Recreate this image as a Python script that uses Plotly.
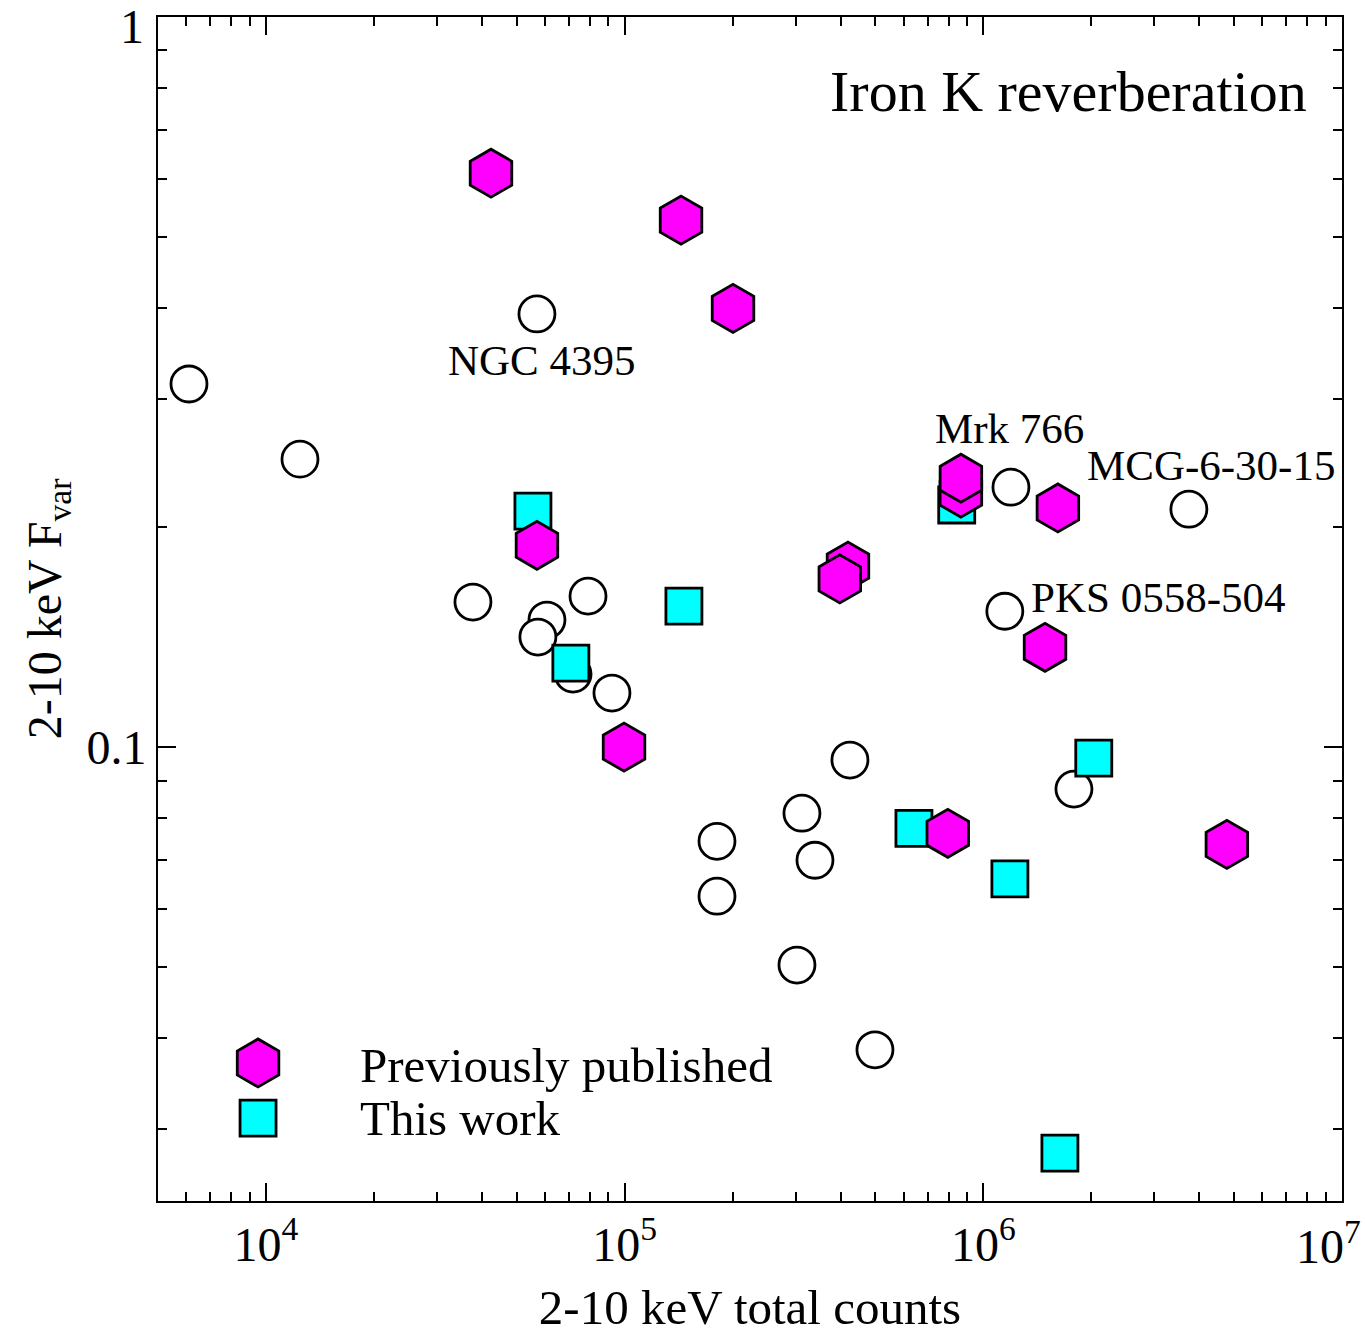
import numpy as np
import plotly.graph_objects as go

# ---- data ----
prev_counts = [42400, 143600, 200500, 56950, 419400, 398000, 866000, 866000,
               1614000, 1486000, 99600, 796000, 4775000]
prev_fvar = [0.611, 0.527, 0.399, 0.189, 0.177, 0.170, 0.2228, 0.2335,
             0.2126, 0.137, 0.100, 0.0762, 0.0736]

this_counts = [55500, 843000, 146300, 70800, 2032000, 640600, 1186000, 1635000]
this_fvar = [0.2105, 0.2146, 0.156, 0.1303, 0.0966, 0.0774, 0.0660, 0.0278]

other_counts = [6100, 12440, 56950, 37760, 60730, 57300, 79040, 71800, 92170,
                424700, 180900, 180900, 312100, 339300, 302300, 498700,
                1789000, 1194000, 3742000, 1148000]
other_fvar = [0.3143, 0.248, 0.392, 0.158, 0.1493, 0.1415, 0.161, 0.1259, 0.1186,
              0.096, 0.0743, 0.0625, 0.0812, 0.070, 0.0503, 0.0385,
              0.0876, 0.227, 0.2118, 0.1535]

labels = ["NGC 4395", "Mrk 766", "MCG-6-30-15", "PKS 0558-504"]
label_x = [58900, 1186000, 4315000, 3070000]
label_y = [0.339, 0.2735, 0.2427, 0.1603]

x_major = [1e4, 1e5, 1e6, 1e7]
x_major_text = ["10<sup>4</sup>", "10<sup>5</sup>", "10<sup>6</sup>", ""]
x_end_label = "10<sup>7</sup>"
y_major = [0.1, 1]
y_major_text = ["0.1", ""]
y_end_label = "1"

x_minor = [m * 10 ** e for e in range(3, 7) for m in range(2, 10) if 5000 <= m * 10 ** e <= 1e7]
y_minor = [m * 10 ** e for e in (-2, -1) for m in range(2, 10) if m * 10 ** e >= 0.024]

FONT = "Liberation Serif"

fig = go.Figure()

fig.add_trace(go.Scatter(
    x=other_counts, y=other_fvar, mode="markers",
    marker=dict(symbol="circle", size=36, color="white",
                line=dict(color="black", width=2.8)),
    showlegend=False))
fig.add_trace(go.Scatter(
    x=this_counts, y=this_fvar, mode="markers",
    marker=dict(symbol="square", size=36, color="#00FFFF",
                line=dict(color="black", width=2.8)),
    showlegend=False))
fig.add_trace(go.Scatter(
    x=prev_counts, y=prev_fvar, mode="markers",
    marker=dict(symbol="hexagon", size=48, color="#FF00FF",
                line=dict(color="black", width=2.8)),
    showlegend=False))

# legend keys on an overlay axis in unit coordinates
fig.add_trace(go.Scatter(
    x=[0.0845], y=[0.1166], mode="markers", xaxis="x2", yaxis="y2",
    marker=dict(symbol="hexagon", size=48, color="#FF00FF",
                line=dict(color="black", width=2.8)),
    showlegend=False, hoverinfo="skip"))
fig.add_trace(go.Scatter(
    x=[0.0845], y=[0.070], mode="markers", xaxis="x2", yaxis="y2",
    marker=dict(symbol="square", size=36, color="#00FFFF",
                line=dict(color="black", width=2.8)),
    showlegend=False, hoverinfo="skip"))

annotations = []
for t, lx, ly in zip(labels, label_x, label_y):
    annotations.append(dict(x=np.log10(lx), y=np.log10(ly), xref="x", yref="y",
                            text=t, showarrow=False, xanchor="center", yanchor="middle",
                            font=dict(family=FONT, size=43, color="black")))
annotations.append(dict(x=(1309 - 158) / 1184, y=1 - (91 - 17) / 1184,
                        xref="paper", yref="paper", text="Iron K reverberation",
                        showarrow=False, xanchor="right", yanchor="middle",
                        font=dict(family=FONT, size=58, color="black")))
annotations.append(dict(x=(358 - 158) / 1184, y=1 - (1065 - 17) / 1184,
                        xref="paper", yref="paper", text="Previously published",
                        showarrow=False, xanchor="left", yanchor="middle",
                        font=dict(family=FONT, size=49, color="black")))
annotations.append(dict(x=(358 - 158) / 1184, y=1 - (1118 - 17) / 1184,
                        xref="paper", yref="paper", text="This work",
                        showarrow=False, xanchor="left", yanchor="middle",
                        font=dict(family=FONT, size=49, color="black")))
# end-of-axis tick labels, nudged inward as in the reference
annotations.append(dict(x=(1328 - 158) / 1184, y=-(1243 - 1201) / 1184,
                        xref="paper", yref="paper", text=x_end_label,
                        showarrow=False, xanchor="center", yanchor="middle",
                        font=dict(family=FONT, size=48, color="black")))
annotations.append(dict(x=(132 - 158) / 1184, y=1 - (27 - 17) / 1184,
                        xref="paper", yref="paper", text=y_end_label,
                        showarrow=False, xanchor="center", yanchor="middle",
                        font=dict(family=FONT, size=48, color="black")))

axis_common = dict(showgrid=False, zeroline=False, showline=True, linecolor="black",
                   linewidth=2, mirror="ticks", ticks="inside", tickcolor="black",
                   tickwidth=2, ticklen=18, ticklabeloverflow="allow", automargin=False)

fig.update_layout(
    width=1365, height=1335,
    margin=dict(l=158, r=23, t=17, b=134),
    paper_bgcolor="white", plot_bgcolor="white",
    font=dict(family=FONT, size=48, color="black"),
    xaxis=dict(type="log", range=[np.log10(5000), 7],
               tickmode="array", tickvals=x_major, ticktext=x_major_text,
               minor=dict(tickmode="array", tickvals=x_minor, ticks="inside",
                          ticklen=9, tickwidth=2, tickcolor="black", showgrid=False),
               title=dict(text="2-10 keV total counts", font=dict(size=49), standoff=24),
               tickfont=dict(size=48),
               **axis_common),
    yaxis=dict(type="log", range=[np.log10(0.0239), 0],
               tickmode="array", tickvals=y_major, ticktext=y_major_text,
               minor=dict(tickmode="array", tickvals=y_minor, ticks="inside",
                          ticklen=9, tickwidth=2, tickcolor="black", showgrid=False),
               title=dict(text="2-10 keV F<sub>var</sub>", font=dict(size=48), standoff=10),
               tickfont=dict(size=48),
               **axis_common),
    xaxis2=dict(overlaying="x", range=[0, 1], visible=False, fixedrange=True),
    yaxis2=dict(overlaying="y", range=[0, 1], visible=False, fixedrange=True),
    annotations=annotations,
)

fig.write_html("out.html")
